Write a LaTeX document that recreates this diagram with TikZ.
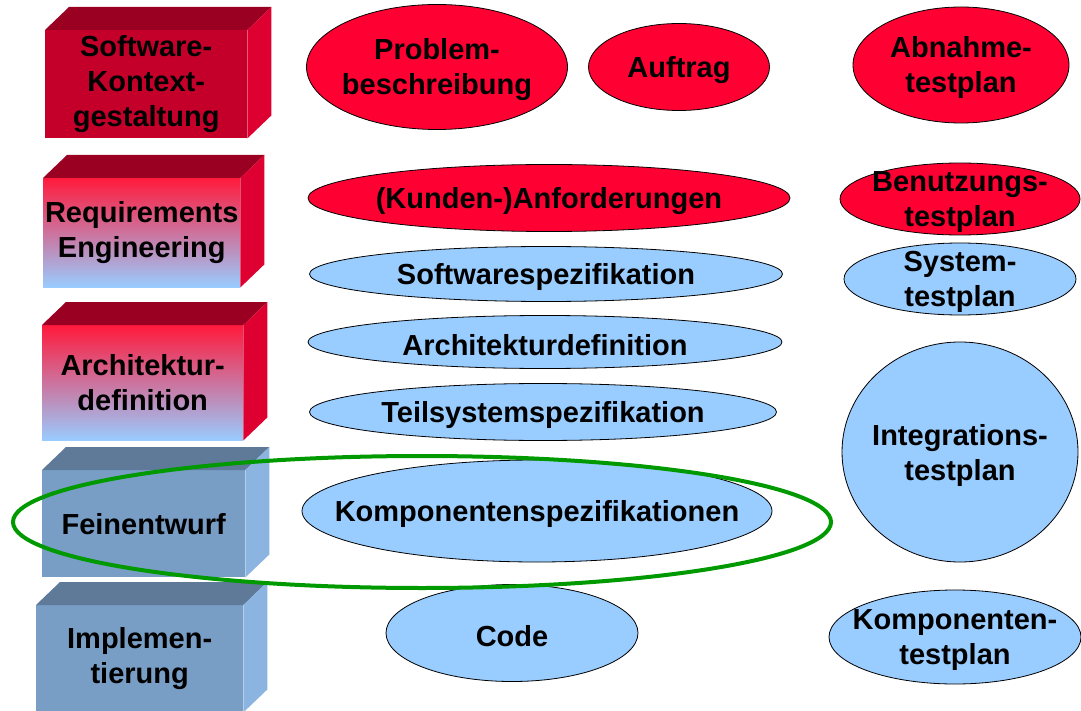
\documentclass[tikz,border=0pt]{standalone}
\usepackage{fontspec}
\setmainfont{Liberation Sans}
\usepackage{tikz}
\usetikzlibrary{calc,positioning,shapes.geometric}
\definecolor{boxred}{RGB}{196,0,42}
\definecolor{boxredtop}{RGB}{153,0,34}
\definecolor{boxredside}{RGB}{221,0,48}
\definecolor{fadered}{RGB}{255,26,60}
\definecolor{ovalred}{RGB}{255,0,51}
\definecolor{ovalblue}{RGB}{153,204,255}
\definecolor{boxblue}{RGB}{120,158,198}
\definecolor{boxbluetop}{RGB}{95,122,153}
\definecolor{boxblueside}{RGB}{140,180,224}
\definecolor{fokusgreen}{RGB}{0,153,0}
\newcommand{\labelfont}{\bfseries\fontsize{29}{35}\selectfont}
\tikzset{
  front/.style 2 args={
    rectangle, inner sep=0pt, anchor=north west,
    minimum width=#1, minimum height=#2,
    align=center, font=\labelfont
  },
  oval text/.style={inner sep=0pt, yshift=-3pt, align=center, font=\labelfont},
  oval/.style={
    ellipse, draw=black, line width=0.8pt, inner sep=0pt,
    label={[oval text]center:{#1}}
  },
  redoval/.style={oval={#1}, fill=ovalred},
  blueoval/.style={oval={#1}, fill=ovalblue},
  oval size/.style 2 args={minimum width=#1, minimum height=#2}
}
% top and side face of a block, drawn behind its front node
\newcommand{\quaderseiten}[3]{%
  \fill[#2] (#1.north west) -- ([shift={(24,-23)}]#1.north west)
    -- ([shift={(24,-23)}]#1.north east) -- (#1.north east) -- cycle;
  \fill[#3] (#1.north east) -- ([shift={(24,-23)}]#1.north east)
    -- ([shift={(24,-23)}]#1.south east) -- (#1.south east) -- cycle;
}
\begin{document}
\begin{tikzpicture}[x=1pt,y=-1pt]
    \useasboundingbox (0,0) rectangle (1081,711);
    % phases
    \node[front={202pt}{108pt}, fill=boxred] (kontext) at (45,30) {Software-\\Kontext-\\gestaltung};
    \node[front={197pt}{109pt}, top color=fadered, bottom color=ovalblue] (req) at (43,178) {Requirements\\Engineering};
    \node[front={201pt}{115pt}, top color=fadered, bottom color=ovalblue] (arch) at (42,325) {Architektur-\\definition};
    \node[front={203pt}{107pt}, fill=boxblue] (fein) at (42,470) {Feinentwurf};
    \node[front={207pt}{107pt}, fill=boxblue] (impl) at (36,605) {Implemen-\\tierung};
    \quaderseiten{kontext}{boxredtop}{boxredside}
    \quaderseiten{req}{boxredtop}{boxredside}
    \quaderseiten{arch}{boxredtop}{boxredside}
    \quaderseiten{fein}{boxbluetop}{boxblueside}
    \quaderseiten{impl}{boxbluetop}{boxblueside}
    % documents
    \node[redoval={Problem-\\beschreibung}, oval size={261pt}{125pt}] (problem) at (437,67) {};
    \node[redoval={Auftrag}, oval size={181pt}{87pt}] (auftrag) at (679,67) {};
    \node[redoval={(Kunden-)Anforderungen}, oval size={482pt}{67pt}] (anford) at (549,198) {};
    \node[blueoval={Softwarespezifikation}, oval size={473pt}{55pt}] (swspez) at (546,274) {};
    \node[blueoval={Architekturdefinition}, oval size={474pt}{53pt}] (archdef) at (545,342) {};
    \node[blueoval={Teilsystemspezifikation}, oval size={467pt}{57pt}] (teilspez) at (543,412) {};
    \node[blueoval={Komponentenspezifikationen}, oval size={470pt}{102pt}] (kompspez) at (537,511) {};
    \node[blueoval={Code}, oval size={252pt}{97pt}] (code) at (512,633) {};
    % test plans
    \node[redoval={Abnahme-\\testplan}, oval size={216pt}{116pt}] (abnahme) at (961,65) {};
    \node[redoval={Benutzungs-\\testplan}, oval size={240pt}{72pt}] (benutzung) at (960,199) {};
    \node[blueoval={System-\\testplan}, oval size={232pt}{72pt}] (system) at (960,279) {};
    \node[blueoval={Integrations-\\testplan}, oval size={236pt}{220pt}] (integration) at (960,452) {};
    \node[blueoval={Komponenten-\\testplan}, oval size={252pt}{94pt}] (komptest) at (955,637) {};
    % focus ring
    \node[ellipse, draw=fokusgreen, line width=4pt, inner sep=0pt,
          minimum width=818pt, minimum height=132pt] (fokus) at (422,522) {};
\end{tikzpicture}
\end{document}
